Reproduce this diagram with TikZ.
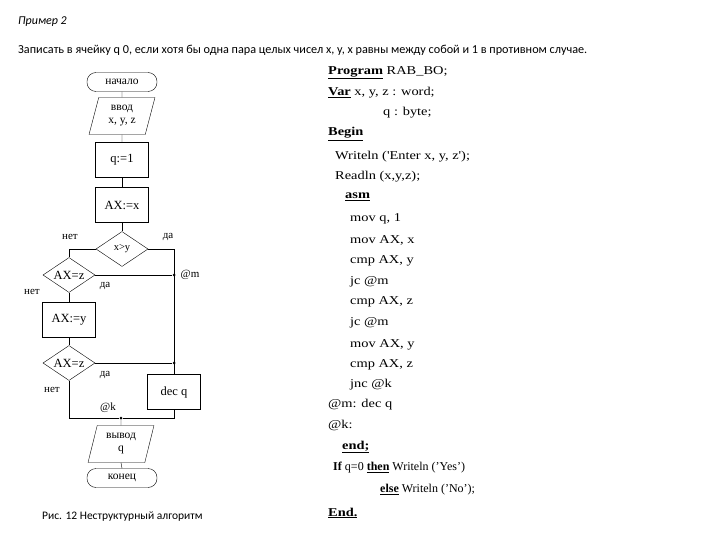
\documentclass[tikz,border=0pt]{standalone}
\usepackage{fontspec}
\setmainfont{Liberation Serif}
\newfontfamily\capfont{Carlito}
\newfontfamily\codefont[FakeStretch=1.2]{Liberation Serif}
\usetikzlibrary{shapes.geometric,positioning}
\newcommand{\kw}[1]{\underline{\textbf{#1}}}

\begin{document}
\begin{tikzpicture}[x=1pt, y=-1pt,
  font=\fontsize{12.5}{14}\selectfont,
  term/.style={draw, rounded corners=9pt, minimum width=70pt,
               minimum height=19pt, inner sep=1pt,
               font=\fontsize{11.5}{12}\selectfont},
  io/.style={draw, trapezium, trapezium left angle=75,
             trapezium right angle=105, trapezium stretches=true,
             minimum width=66pt, minimum height=37pt, inner sep=1pt,
             align=center, font=\fontsize{11.5}{13}\selectfont},
  proc/.style={draw, minimum width=53pt, minimum height=35pt, inner sep=1pt},
  cond/.style={draw, diamond, minimum width=52pt, minimum height=35pt,
               inner sep=0pt},
  jn/.style={circle, fill, inner sep=0pt, minimum size=3pt},
  lbl/.style={font=\fontsize{11}{12}\selectfont, inner sep=0pt},
  code/.style={anchor=west, inner sep=0pt, font=\codefont\fontsize{12}{13}\selectfont},
  note/.style={anchor=west, inner sep=0pt, font=\capfont\fontsize{12.2}{14}\selectfont},
]

  \useasboundingbox (0,0) rectangle (720,540);

  \def\mc{122}
  \def\lc{69}
  \def\rc{174}

  % Heading

  \node[note, font=\capfont\itshape\fontsize{12}{14}\selectfont] (title) at (18,22) {Пример 2};
  \node[note] (task) at (18,50)
    {Записать в ячейку q 0, если хотя бы одна пара целых чисел x, y, x равны между собой и 1 в противном случае.};

  % Flowchart

  \node[term] (start) at (\mc,82)  {начало};
  \node[io]   (inp)   at (\mc,116) {ввод\\x, y, z};
  \node[proc] (qone)  at (\mc,160) {q:=1};
  \node[proc] (axx)   at (\mc,205) {AX:=x};
  \node[cond, label=center:{\fontsize{10.5}{12}\selectfont x>y}] (cxy) at (\mc,249) {};
  \node[cond, label=center:{AX=z}] (cz1) at (\lc,275) {};
  \node[proc] (axy)   at (\lc,320) {AX:=y};
  \node[cond, label=center:{AX=z}] (cz2) at (\lc,363) {};
  \node[proc] (decq)  at (\rc,392) {dec q};
  \node[io]   (outp)  at (121,444) {вывод\\q};
  \node[term] (stop)  at (\mc,478) {конец};

  \node[jn] (m1) at (\rc,275) {};
  \node[jn] (m2) at (\rc,363) {};
  \node[jn] (k)  at (121,418) {};

  % Connectors

  \draw (start.south) -- (inp.north);
  \draw (inp.south)   -- (qone.north);
  \draw (qone.south)  -- (axx.north);
  \draw (axx.south)   -- (cxy.north);
  \draw (cxy.west) -| (cz1.north);
  \draw (cxy.east) -| (decq.north);
  \draw (cz1.east)    -- (m1);
  \draw (cz1.south)   -- (axy.north);
  \draw (axy.south)   -- (cz2.north);
  \draw (cz2.east)    -- (m2);
  \draw (cz2.south) |- (k);
  \draw (decq.south) |- (k);
  \draw (k)           -- (outp.north);
  \draw (outp.south)  -- (stop.north);

  % Labels

  \node[lbl] (l1) at (70,237)  {нет};
  \node[lbl] (l2) at (168,237) {да};
  \node[lbl] (l3) at (190,275) {@m};
  \node[lbl] (l4) at (105,286) {да};
  \node[lbl] (l5) at (32,292)  {нет};
  \node[lbl] (l6) at (105,375) {да};
  \node[lbl] (l7) at (52,390)  {нет};
  \node[lbl] (l8) at (108,408) {@k};

  \node[note, font=\capfont\fontsize{11.5}{14}\selectfont] (fig) at (42,517) {Рис. 12 Неструктурный алгоритм};

  % Program text

  \node[code] (cprog)  at (328,73)  {\kw{Program} RAB\_BO;};
  \node[code] (cvar)   at (328,93)  {\kw{Var} x, y, z : word;};
  \node[code] (cbyte)  at (383,113) {q : byte;};
  \node[code] (cbegin) at (328,134) {\kw{Begin}};
  \node[code] (cwrite) at (335,157) {Writeln ('Enter x, y, z');};
  \node[code] (cread)  at (335,177) {Readln (x,y,z);};
  \node[code] (casm)   at (345,197) {\kw{asm}};
  \node[code] (cmov1)  at (350,219) {mov q, 1};
  \node[code] (cmov2)  at (350,240) {mov AX, x};
  \node[code] (ccmp1)  at (350,261) {cmp AX, y};
  \node[code] (cjc1)   at (350,282) {jc @m};
  \node[code] (ccmp2)  at (350,302) {cmp AX, z};
  \node[code] (cjc2)   at (350,323) {jc @m};
  \node[code] (cmov3)  at (350,345) {mov AX, y};
  \node[code] (ccmp3)  at (350,365) {cmp AX, z};
  \node[code] (cjnc)   at (350,385) {jnc @k};
  \node[code] (cdec)   at (328,405) {@m: dec q};
  \node[code] (clk)    at (328,425) {@k:};
  \node[code] (cend)   at (342,447) {\kw{end;}};
  \node[code, font=\fontsize{12}{13}\selectfont] (cif) at (333,468)
    {\textbf{If} q=0 \kw{then} Writeln ('Yes')};
  \node[code, font=\fontsize{12}{13}\selectfont] (celse) at (380,490)
    {\kw{else} Writeln ('No');};
  \node[code] (cEnd)   at (328,513) {\kw{End.}};

\end{tikzpicture}
\end{document}
